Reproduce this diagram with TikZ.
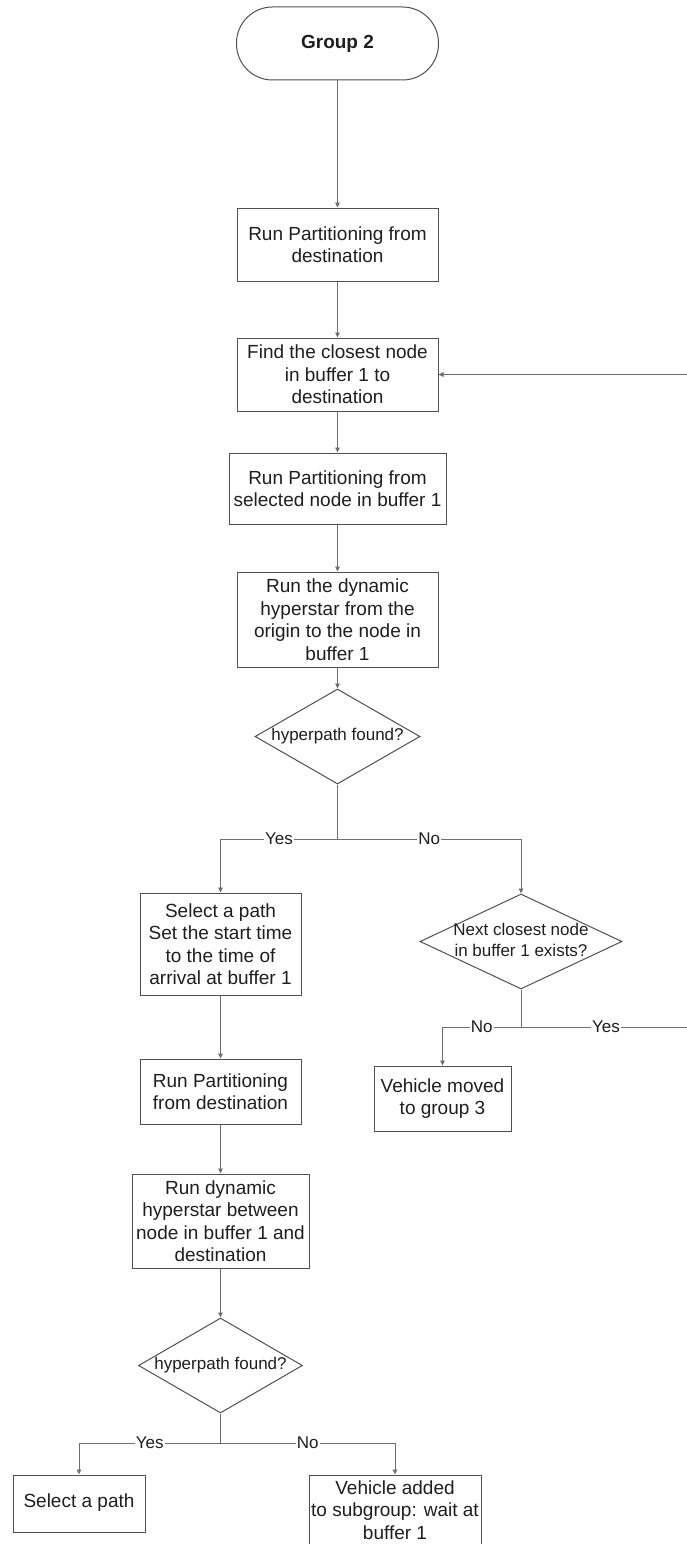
\documentclass[tikz,border=0pt]{standalone}
\usepackage{fontspec}
\setmainfont{Liberation Sans}
\usetikzlibrary{shapes.geometric,arrows.meta}
\definecolor{edgegray}{HTML}{6E6E6E}
\definecolor{boxgray}{HTML}{505050}
\definecolor{inkgray}{HTML}{1E1E1E}
% text of a decision that may run over the diamond's outline
\newcommand\dtext[1]{\makebox[0pt]{\begin{tabular}{@{}c@{}}#1\end{tabular}}}

\begin{document}
\begin{tikzpicture}[x=1pt,y=-1pt,
  every node/.style={text=inkgray},
  stepbox/.style={draw=boxgray, line width=1pt, rectangle, inner sep=0pt, align=center,
    font=\fontsize{19}{22.5}\selectfont},
  terminal/.style={stepbox, rounded corners=36pt, font=\bfseries\fontsize{19}{22}\selectfont},
  decision/.style={draw=boxgray, line width=1pt, diamond, inner sep=0pt,
    font=\fontsize{17}{21}\selectfont},
  flow/.style={draw=edgegray, line width=0.9pt, -{Triangle[length=5pt,width=4.5pt]}},
  link/.style={draw=edgegray, line width=0.9pt},
  lbl/.style={fill=white, inner sep=1pt, font=\fontsize{17}{20}\selectfont},
]
\useasboundingbox (0,0) rectangle (687,1544);

% main column
\node[terminal, minimum width=202pt, minimum height=73pt] (start) at (337.5,43.5) {Group 2};
\node[stepbox, minimum width=201pt, minimum height=73pt] (b1) at (337.5,244.5)
  {Run Partitioning from\\destination};
\node[stepbox, minimum width=201pt, minimum height=73pt] (b2) at (337.5,374.5)
  {Find the closest node\\in buffer 1 to\\destination};
\node[stepbox, minimum width=217pt, minimum height=71pt] (b3) at (337.5,488.5)
  {Run Partitioning from\\selected node in buffer 1};
\node[stepbox, minimum width=201pt, minimum height=95pt] (b4) at (337.5,619.5)
  {Run the dynamic\\hyperstar from the\\origin to the node in\\buffer 1};
\node[decision, minimum width=165pt, minimum height=95pt] (d1) at (337.5,736.5)
  {\dtext{hyperpath found?}};

% "Yes" branch of the first test
\node[stepbox, minimum width=161pt, minimum height=102pt] (sel) at (220.5,944)
  {Select a path\\Set the start time\\to the time of\\arrival at buffer 1};
\node[stepbox, minimum width=161pt, minimum height=65pt] (rp2) at (220.5,1091.5)
  {Run Partitioning\\from destination};
\node[stepbox, minimum width=177pt, minimum height=94pt] (rd) at (220.5,1221)
  {Run dynamic\\hyperstar between\\node in buffer 1 and\\destination};
\node[decision, minimum width=164pt, minimum height=95pt] (d3) at (220.5,1365.5)
  {\dtext{hyperpath found?}};
\node[stepbox, minimum width=132pt, minimum height=57pt] (sp) at (79,1503.5)
  {\raisebox{6pt}{Select a path}};
\node[stepbox, minimum width=172pt, minimum height=70pt] (va) at (395,1510)
  {Vehicle added\\to subgroup: wait at\\buffer 1};

% "No" branch of the first test
\node[decision, minimum width=202pt, minimum height=95pt] (d2) at (521,941.5)
  {\dtext{Next closest node\\in buffer 1 exists?}};
\node[stepbox, minimum width=137pt, minimum height=65pt] (vm) at (442.5,1098.5)
  {Vehicle moved\\to group 3};

% junction points and the loop back
\coordinate (j1) at (337.5,839);
\coordinate (j2) at (521,1027);
\coordinate (j3) at (220.5,1443);
\coordinate (loop) at (691,1027);

% connectors
\draw[flow] (start) -- (b1);
\draw[flow] (b1) -- (b2);
\draw[flow] (b2) -- (b3);
\draw[flow] (b3) -- (b4);
\draw[flow] (b4) -- (d1);
\draw[link] (d1.south) -- (j1);
\draw[flow] (j1) -| node[lbl, pos=0.25] {Yes} (sel.north);
\draw[flow] (j1) -| node[lbl, pos=0.25] {No} (d2.north);
\draw[flow] (sel) -- (rp2);
\draw[flow] (rp2) -- (rd);
\draw[flow] (rd) -- (d3);
\draw[link] (d3.south) -- (j3);
\draw[flow] (j3) -| node[lbl, pos=0.25] {Yes} (sp.north);
\draw[flow] (j3) -| node[lbl, pos=0.25] {No} (va.north);
\draw[link] (d2.south) -- (j2);
\draw[flow] (j2) -| node[lbl, pos=0.25] {No} (vm.north);
\draw[link] (j2) -- node[lbl] {Yes} (loop);
\draw[flow] (loop) |- (b2.east);
\end{tikzpicture}
\end{document}
